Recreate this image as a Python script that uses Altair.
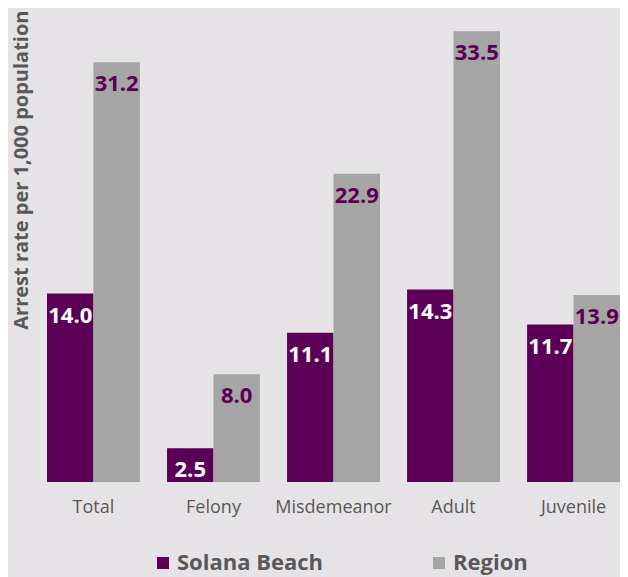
import altair as alt
import pandas as pd

categories = ["Total", "Felony", "Misdemeanor", "Adult", "Juvenile"]
series = ["Solana Beach", "Region"]
solana = [14.0, 2.5, 11.1, 14.3, 11.7]
region = [31.2, 8.0, 22.9, 33.5, 13.9]

purple = "#5b0056"
gray = "#a5a5a5"
text_gray = "#595959"
bg = "#e5e3e5"

rows = []
for c, s, r in zip(categories, solana, region):
    rows.append({"category": c, "series": "Solana Beach", "value": s})
    rows.append({"category": c, "series": "Region", "value": r})
df = pd.DataFrame(rows)

x = alt.X(
    "category:N",
    sort=categories,
    scale=alt.Scale(paddingInner=0.226, paddingOuter=0),
    axis=alt.Axis(
        title=None, labelAngle=0, labelFontSize=18, labelColor=text_gray,
        labelFont="Open Sans", labelPadding=16, ticks=False, domain=False,
    ),
)
xoff = alt.XOffset("series:N", sort=series, scale=alt.Scale(paddingInner=0, paddingOuter=0))
y = alt.Y(
    "value:Q",
    scale=alt.Scale(domain=[0, 35], nice=False, zero=True),
    axis=alt.Axis(
        title="Arrest rate per 1,000 population", labels=False, ticks=False,
        domain=False, grid=False, titleFontSize=20, titleFont="Open Sans",
        titleFontWeight="bold", titleColor=text_gray, titleAngle=-90,
        titleAlign="right", titleBaseline="alphabetic", titleX=-20, titleY=-1,
    ),
)

bars = alt.Chart(df).mark_bar().encode(
    x=x,
    xOffset=xoff,
    y=y,
    color=alt.Color(
        "series:N",
        sort=series,
        scale=alt.Scale(domain=series, range=[purple, gray]),
        legend=alt.Legend(
            title=None, orient="none", legendX=105, legendY=541,
            direction="horizontal", symbolType="square", symbolSize=144,
            symbolStrokeWidth=0, symbolOpacity=1, labelFontSize=22,
            labelFontWeight="bold", labelFont="Open Sans", labelColor=text_gray,
            labelOffset=3, columnPadding=104, labelLimit=300,
        ),
    ),
)

labels = alt.Chart(df).mark_text(
    baseline="top", dy=12, fontSize=22, fontWeight="bold", font="Open Sans"
).encode(
    x=x,
    xOffset=xoff,
    y=y,
    text=alt.Text("value:Q", format=".1f"),
    color=alt.Color(
        "series:N", sort=series,
        scale=alt.Scale(domain=series, range=["#ffffff", purple]),
        legend=None,
    ),
)

chart = (
    alt.layer(bars, labels)
    .resolve_scale(color="independent")
    .properties(
        width=573, height=471, background=bg,
        autosize=alt.AutoSizeParams(type="none"),
        padding={"left": 39, "top": 3, "right": 0, "bottom": 95},
    )
    .configure_view(stroke=None)
)

chart.save("out.html", embed_options={"renderer": "svg", "actions": False})
